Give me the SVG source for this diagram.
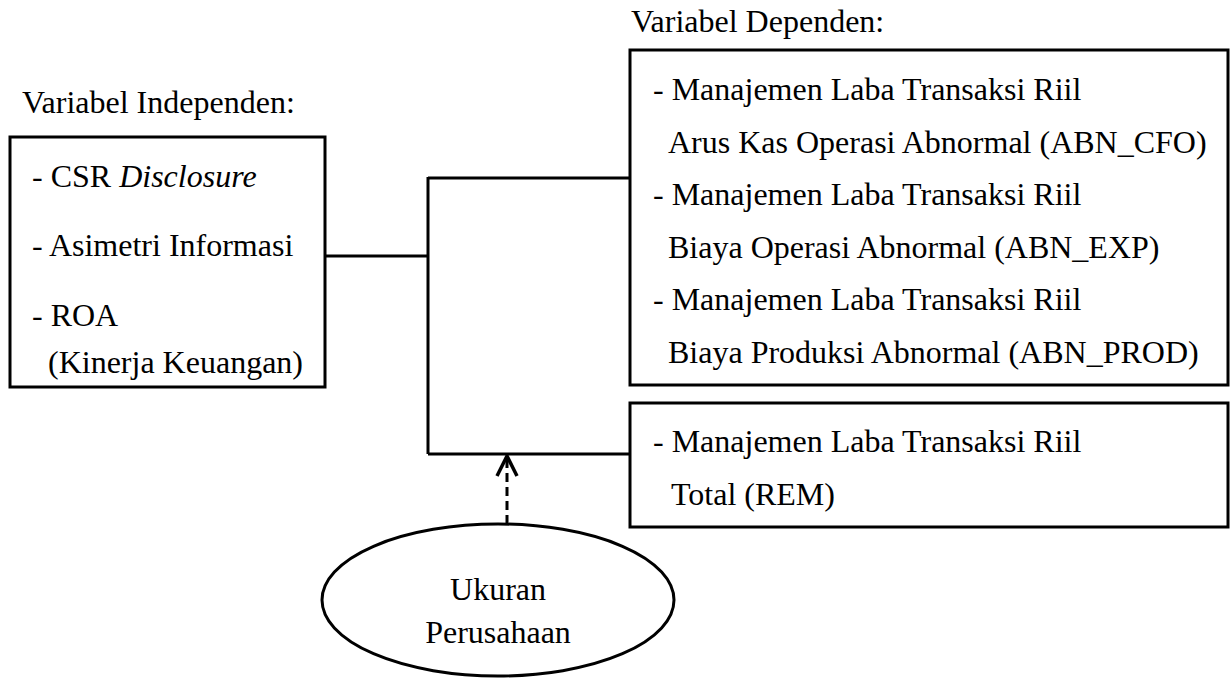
<svg xmlns="http://www.w3.org/2000/svg" width="1231" height="681" viewBox="0 0 1231 681">
<defs>
<style>
text{font-family:"Liberation Serif","Times New Roman",serif;font-size:32px;fill:#000}
.box{fill:#fff;stroke:#000;stroke-width:3}
.ln{fill:none;stroke:#000;stroke-width:3}
</style>
<marker id="ah" markerWidth="24" markerHeight="26" refX="21" refY="12" orient="auto" markerUnits="userSpaceOnUse" viewBox="0 0 24 24">
<path d="M1,2 L21,12 L1,22" fill="none" stroke="#000" stroke-width="3.5"/>
</marker>
</defs>
<rect width="1231" height="681" fill="#fff"/>
<text x="22" y="113">Variabel Independen:</text>
<text x="631" y="32">Variabel Dependen:</text>
<g id="connectors">
<path class="ln" d="M325,256 H428 M428,177 V454 M428,178 H630 M428,454 H630"/>
<path class="ln" d="M507,524 V456" stroke-width="3.5" stroke-dasharray="9,5" marker-end="url(#ah)"/>
</g>
<g id="independen">
<rect class="box" x="10" y="137" width="315" height="250"/>
<text x="32" y="187">- CSR <tspan font-style="italic">Disclosure</tspan></text>
<text x="32" y="256">- Asimetri Informasi</text>
<text x="32" y="326">- ROA</text>
<text x="48" y="373">(Kinerja Keuangan)</text>
</g>
<g id="dependen">
<rect class="box" x="630" y="50" width="598" height="335"/>
<text x="653" y="100">- Manajemen Laba Transaksi Riil</text>
<text x="668" y="153">Arus Kas Operasi Abnormal (ABN_CFO)</text>
<text x="653" y="205">- Manajemen Laba Transaksi Riil</text>
<text x="668" y="258">Biaya Operasi Abnormal (ABN_EXP)</text>
<text x="653" y="310">- Manajemen Laba Transaksi Riil</text>
<text x="668" y="363">Biaya Produksi Abnormal (ABN_PROD)</text>
</g>
<g id="rem">
<rect class="box" x="630" y="403" width="598" height="124"/>
<text x="653" y="452">- Manajemen Laba Transaksi Riil</text>
<text x="671" y="505">Total (REM)</text>
</g>
<g id="ukuran">
<ellipse class="box" cx="498" cy="600" rx="176" ry="76"/>
<text x="498" y="600" text-anchor="middle">Ukuran</text>
<text x="498" y="643" text-anchor="middle">Perusahaan</text>
</g>
</svg>
